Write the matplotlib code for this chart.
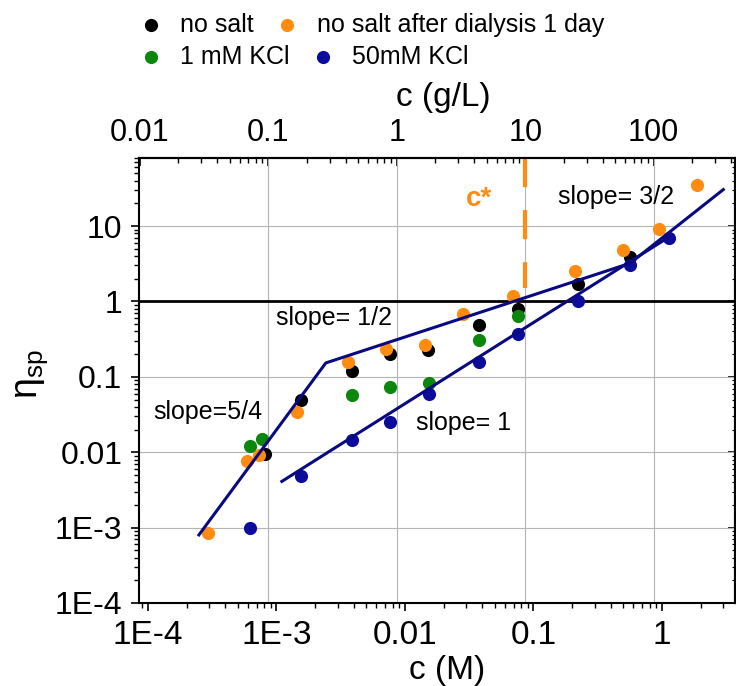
import matplotlib.pyplot as plt
import numpy as np
from matplotlib.ticker import LogLocator, NullFormatter

plt.rcParams['font.family'] = ['Liberation Sans', 'DejaVu Sans']
plt.rcParams['mathtext.fontset'] = 'custom'
plt.rcParams['mathtext.rm'] = 'Liberation Sans'
plt.rcParams['mathtext.it'] = 'Liberation Sans:italic'

MW = 116.0  # c(g/L) = c(M) * MW

# data
c_nosalt = [8.1e-4, 1.54e-3, 3.85e-3, 7.6e-3, 0.0152, 0.0379, 0.0753, 0.221, 0.564]
eta_nosalt = [9.4e-3, 0.0493, 0.121, 0.199, 0.224, 0.493, 0.79, 1.69, 3.85]

c_dial = [2.94e-4, 5.86e-4, 7.34e-4, 1.45e-3, 3.62e-3, 7.1e-3, 0.0143, 0.0284, 0.0697, 0.21, 0.494, 0.94, 1.88]
eta_dial = [8.6e-4, 7.7e-3, 9.2e-3, 0.0345, 0.157, 0.234, 0.267, 0.677, 1.19, 2.5, 4.8, 9.1, 34.8]

c_kcl1 = [6.2e-4, 7.7e-4, 3.85e-3, 7.6e-3, 0.0153, 0.0379, 0.0753]
eta_kcl1 = [0.0121, 0.0149, 0.0575, 0.074, 0.082, 0.311, 0.637]

c_kcl50 = [6.2e-4, 1.54e-3, 3.85e-3, 7.6e-3, 0.0153, 0.0379, 0.0753, 0.221, 0.564, 1.14]
eta_kcl50 = [9.9e-4, 4.8e-3, 0.0146, 0.0249, 0.060, 0.157, 0.366, 1.0, 3.0, 7.0]

# power-law guide lines
fit_nosalt_c = [2.49e-4, 2.42e-3, 0.564, 3.0]
fit_nosalt_eta = [8.0e-4, 0.153, 3.21, 30.5]
fit_salt_c = [1.1e-3, 1.12]
fit_salt_eta = [4.1e-3, 7.07]

cstar_gL = 10.0
cstar_eta = [80, 1.49]

x_ticks = [1e-4, 1e-3, 0.01, 0.1, 1]
x_labels = ['1E-4', '1E-3', '0.01', '0.1', '1']
y_ticks = [1e-4, 1e-3, 0.01, 0.1, 1, 10]
y_labels = ['1E-4', '1E-3', '0.01', '0.1', '1', '10']
top_ticks = [0.01, 0.1, 1, 10, 100]
top_labels = ['0.01', '0.1', '1', '10', '100']

orange = '#ff8c10'
green = '#0b870b'
blue = '#0c0c9c'
navy = '#0a0a80'

fig = plt.figure(figsize=(7.36, 6.86), dpi=100)
ax = fig.add_axes([139 / 736, 83 / 686, 596 / 736, 445 / 686])
ax.set_xscale('log')
ax.set_yscale('log')
ax.set_xlim(8.51e-5, 3.7)
ax.set_ylim(1e-4, 80)

# grid: horizontal at y decades, vertical at top-axis decades
for t in y_ticks:
    ax.axhline(t, color='#b4b4b4', lw=0.8, zorder=1)
for t in top_ticks[1:]:
    ax.axvline(t / MW, color='#b4b4b4', lw=0.8, zorder=1)
ax.axhline(1, color='black', lw=2.0, zorder=2)

ms = 90
h1 = ax.scatter(c_nosalt, eta_nosalt, s=ms, color='black', lw=0, zorder=3, label='no salt')
h2 = ax.scatter(c_dial, eta_dial, s=ms, color=orange, lw=0, zorder=3, label='no salt after dialysis 1 day')
h3 = ax.scatter(c_kcl1, eta_kcl1, s=ms, color=green, lw=0, zorder=3, label='1 mM KCl')
h4 = ax.scatter(c_kcl50, eta_kcl50, s=ms, color=blue, lw=0, zorder=3, label='50mM KCl')

ax.plot(fit_nosalt_c, fit_nosalt_eta, color=navy, lw=2.2, zorder=4)
ax.plot(fit_salt_c, fit_salt_eta, color=navy, lw=2.2, zorder=4)
ax.plot([cstar_gL / MW] * 2, cstar_eta, color=orange, lw=3, ls=(0, (7, 5.5)), zorder=2)

ax.text(0.548, 0.908, 'c*', transform=ax.transAxes, color=orange, fontsize=20,
        fontweight='bold', va='center', ha='left')
ax.text(0.703, 0.912, 'slope= 3/2', transform=ax.transAxes, fontsize=18, va='center')
ax.text(0.2307, 0.640, 'slope= 1/2', transform=ax.transAxes, fontsize=18, va='center')
ax.text(0.0235, 0.429, 'slope=5/4', transform=ax.transAxes, fontsize=18, va='center')
ax.text(0.4654, 0.4045, 'slope= 1', transform=ax.transAxes, fontsize=18, va='center')

# axes styling
ax.set_xticks(x_ticks, labels=x_labels)
ax.set_yticks(y_ticks, labels=y_labels)
ax.xaxis.set_minor_locator(LogLocator(base=10, subs=np.arange(2, 10), numticks=20))
ax.yaxis.set_minor_locator(LogLocator(base=10, subs=np.arange(2, 10), numticks=20))
ax.xaxis.set_minor_formatter(NullFormatter())
ax.yaxis.set_minor_formatter(NullFormatter())
ax.tick_params(which='major', direction='out', length=6, width=1.2, labelsize=24, pad=6,
               top=False, right=False)
ax.tick_params(axis='y', labelsize=23)
ax.tick_params(which='minor', direction='out', length=3.5, width=1.0, top=False, right=False)
for s in ax.spines.values():
    s.set_linewidth(1.5)

sec = ax.secondary_xaxis('top', functions=(lambda x: x * MW, lambda x: x / MW))
sec.set_xticks(top_ticks, labels=top_labels)
sec.xaxis.set_minor_locator(LogLocator(base=10, subs=np.arange(2, 10), numticks=20))
sec.xaxis.set_minor_formatter(NullFormatter())
sec.tick_params(which='major', direction='in', length=6, width=1.2, labelsize=22, pad=7)
sec.tick_params(which='minor', direction='in', length=3.5, width=1.0)
sec.spines['top'].set_linewidth(1.5)

secy = ax.secondary_yaxis('right')
secy.set_yticks(y_ticks, labels=[])
secy.yaxis.set_minor_locator(LogLocator(base=10, subs=np.arange(2, 10), numticks=20))
secy.yaxis.set_minor_formatter(NullFormatter())
secy.tick_params(which='major', direction='in', length=5, width=1.2)
secy.tick_params(which='minor', direction='in', length=2.5, width=0.8)
secy.spines['right'].set_linewidth(1.5)

ax.set_xlabel('c (M)', fontsize=24, va='center')
ax.xaxis.set_label_coords(0.517, -0.1506)
sec.set_xlabel('c (g/L)', fontsize=24, va='center')
sec.xaxis.set_label_coords(0.511, 1.135, transform=ax.transAxes)
ax.set_ylabel('η$_{\\rm sp}$', fontsize=27, va='center')
ax.yaxis.set_label_coords(-0.18, 0.515)

leg_kw = dict(ncol=2, frameon=False, fontsize=18, loc='center left', borderpad=0,
              borderaxespad=0, handlelength=0.8, handletextpad=0.8, columnspacing=0.9,
              scatterpoints=1)
fig.legend(handles=[h1, h2], bbox_to_anchor=(140.5 / 736, 1 - 25 / 686), **leg_kw)
fig.legend(handles=[h3, h4], bbox_to_anchor=(140.5 / 736, 1 - 57 / 686), **leg_kw)

fig.savefig('out.png', dpi=100)
